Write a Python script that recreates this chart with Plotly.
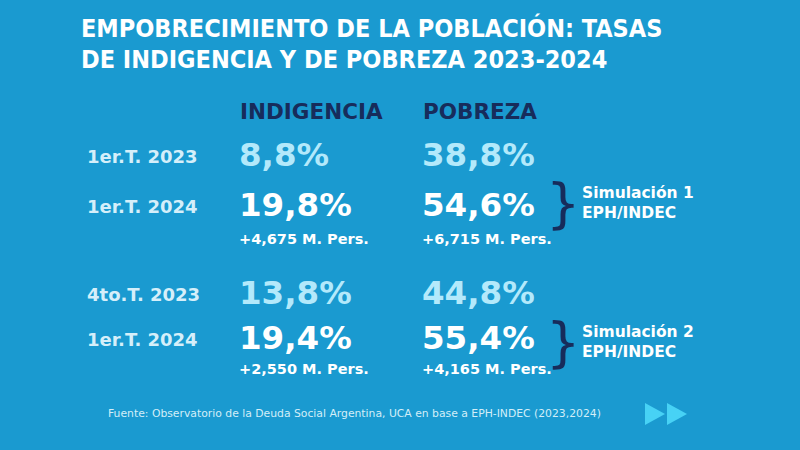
import plotly.graph_objects as go

# ---- data ----
periods = ["1er.T. 2023", "1er.T. 2024", "4to.T. 2023", "1er.T. 2024"]
indigencia = [8.8, 19.8, 13.8, 19.4]
pobreza = [38.8, 54.6, 44.8, 55.4]
ind_delta = [4.675, 2.550]   # millones de personas
pob_delta = [6.715, 4.165]
simulaciones = ["Simulación 1", "Simulación 2"]
headers = ["INDIGENCIA", "POBREZA"]
title_lines = ["EMPOBRECIMIENTO DE LA POBLACIÓN: TASAS",
               "DE INDIGENCIA Y DE POBREZA 2023-2024"]
fuente = "Fuente: Observatorio de la Deuda Social Argentina, UCA en base a EPH-INDEC (2023,2024)"

# ---- layout constants (pixels) ----
W, H = 800, 450
BG = "#1A9AD0"
NAVY = "#172C5B"
LIGHT = "#B3E9FB"
LABEL = "#D5EFFA"
FONT = "DejaVu Sans"
row_y = [158, 208, 296, 341]
delta_y = [240, 370]
brace_y = [203, 342]
x_lab, x_ind, x_pob = 87, 239, 422

def pct(v):
    return f"{v:.1f}%".replace(".", ",")

def pers(v):
    return "+" + f"{v:.3f}".replace(".", ",") + " M. Pers."

val_colors = [LIGHT, "white", LIGHT, "white"]

fig = go.Figure()

# period labels
fig.add_trace(go.Scatter(
    x=[x_lab] * len(periods), y=row_y, mode="text", text=periods,
    textposition="middle right",
    textfont=dict(family=FONT, size=18, color=LABEL, weight="bold"),
    hoverinfo="skip", showlegend=False))

# indigencia / pobreza values
for xcol, vals in ((x_ind, indigencia), (x_pob, pobreza)):
    fig.add_trace(go.Scatter(
        x=[xcol] * len(vals), y=row_y, mode="text", text=[pct(v) for v in vals],
        textposition="middle right",
        textfont=dict(family=FONT, size=32.5, color=val_colors, weight="bold"),
        hoverinfo="skip", showlegend=False))

# deltas
for xcol, vals in ((x_ind, ind_delta), (x_pob, pob_delta)):
    fig.add_trace(go.Scatter(
        x=[xcol] * len(vals), y=delta_y, mode="text", text=[pers(v) for v in vals],
        textposition="middle right",
        textfont=dict(family=FONT, size=14.5, color="white", weight="bold"),
        hoverinfo="skip", showlegend=False))

ann = []
# title
for i, line in enumerate(title_lines):
    ann.append(dict(x=79, y=28 + i * 31, text=line, xanchor="left", yanchor="middle",
                    showarrow=False,
                    font=dict(family="DejaVu Sans Condensed", size=25, color="white", weight="bold")))
# headers
for xcol, h in zip((x_ind - 1, x_pob - 1), headers):
    ann.append(dict(x=xcol, y=111, text=h, xanchor="left", yanchor="middle", showarrow=False,
                    font=dict(family=FONT, size=21.5, color=NAVY, weight="bold")))
# braces + simulation notes
for k, sim in enumerate(simulaciones):
    yc = brace_y[k]
    ann.append(dict(x=563, y=yc, text="}", xanchor="center", yanchor="middle", showarrow=False,
                    font=dict(family="DejaVu Sans", size=54, color=NAVY)))
    ann.append(dict(x=580, y=yc, text=sim + "<br>EPH/INDEC", xanchor="left", yanchor="middle",
                    showarrow=False, align="left",
                    font=dict(family=FONT, size=15.5, color="white", weight="bold")))
# footer
ann.append(dict(x=106, y=413, text=fuente, xanchor="left", yanchor="middle", showarrow=False,
                font=dict(family=FONT, size=10.8, color="#D3EEF8")))

shapes = [
    dict(type="path", path="M 645 403 L 665 414 L 645 425 Z", fillcolor="#47D2F5", line_width=0),
    dict(type="path", path="M 667 403 L 687 414 L 667 425 Z", fillcolor="#47D2F5", line_width=0),
]

fig.update_layout(
    width=W, height=H, margin=dict(l=0, r=0, t=0, b=0),
    paper_bgcolor=BG, plot_bgcolor=BG,
    xaxis=dict(range=[0, W], visible=False, fixedrange=True),
    yaxis=dict(range=[H, 0], visible=False, fixedrange=True),
    annotations=ann, shapes=shapes,
)

fig.write_html("out.html", config={"displayModeBar": False},
               post_script="document.body.style.margin='0';document.body.style.background='%s';" % BG)
